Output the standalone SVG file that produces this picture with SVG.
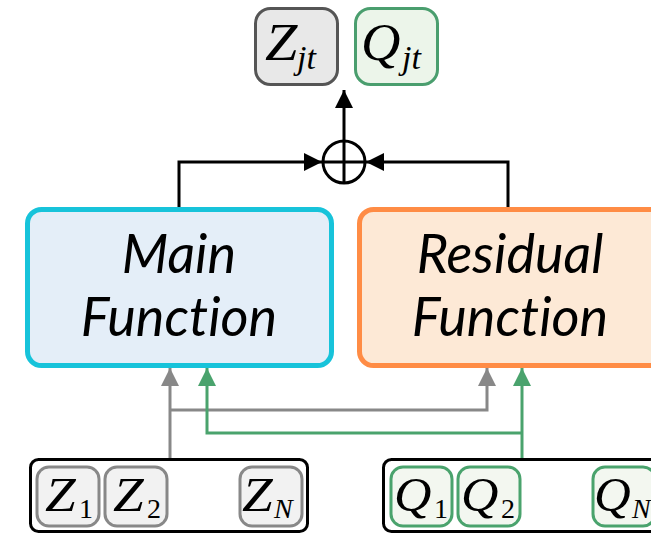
<svg xmlns="http://www.w3.org/2000/svg" width="651" height="533" viewBox="0 0 651 533">
<defs>
<style>
.lbl{font-family:"Lato","Liberation Sans",sans-serif;font-style:italic;font-size:54px;fill:#000;text-anchor:middle;font-variant-ligatures:none}
.m{font-family:"Liberation Serif","DejaVu Serif",serif;font-style:italic;fill:#000}
.sub{font-family:"Liberation Serif","DejaVu Serif",serif;fill:#000}
.zs{fill:#f2f2f2;stroke:#888;stroke-width:3}
.qs{fill:#f3f7f0;stroke:#4aa36d;stroke-width:3}
.cont{fill:#fff;stroke:#000;stroke-width:3}
</style>
<marker id="ab" viewBox="0 0 10 10" refX="10" refY="5" markerWidth="18" markerHeight="18" markerUnits="userSpaceOnUse" orient="auto"><path d="M0,0 L10,5 L0,10 z" fill="#000"/></marker>
<marker id="ag" viewBox="0 0 10 10" refX="10" refY="5" markerWidth="18" markerHeight="18" markerUnits="userSpaceOnUse" orient="auto"><path d="M0,0 L10,5 L0,10 z" fill="#888"/></marker>
<marker id="agr" viewBox="0 0 10 10" refX="10" refY="5" markerWidth="18" markerHeight="18" markerUnits="userSpaceOnUse" orient="auto"><path d="M0,0 L10,5 L0,10 z" fill="#4aa36d"/></marker>
</defs>

<g id="connectors" fill="none">
<path d="M179,207 V162 H322" stroke="#000" stroke-width="3" marker-end="url(#ab)"/>
<path d="M508,207 V162 H366" stroke="#000" stroke-width="3" marker-end="url(#ab)"/>
<path d="M344,140 V90" stroke="#000" stroke-width="3" marker-end="url(#ab)"/>
<path d="M170,459 V368" stroke="#888" stroke-width="3" marker-end="url(#ag)"/>
<path d="M170,410 H487 V368" stroke="#888" stroke-width="3" marker-end="url(#ag)"/>
<path d="M522,459 V368" stroke="#4aa36d" stroke-width="3" marker-end="url(#agr)"/>
<path d="M522,433 H207 V368" stroke="#4aa36d" stroke-width="3" marker-end="url(#agr)"/>
</g>

<g id="sum">
<circle cx="344" cy="162" r="21" fill="#fff" stroke="#000" stroke-width="3"/>
<path d="M323,162 H365 M344,141 V183" stroke="#000" stroke-width="3"/>
</g>

<g id="zjt">
<rect x="255.5" y="8.5" width="82" height="76" rx="15" fill="#e8e8e8" stroke="#555" stroke-width="3"/>
<text transform="translate(265,60) scale(1.12,1)" class="m" font-size="52">Z</text>
<text x="297" y="69" class="m" font-size="34">jt</text>
</g>

<g id="qjt">
<rect x="355.5" y="8.5" width="82" height="76" rx="15" fill="#ecf5ea" stroke="#4a9e6e" stroke-width="3"/>
<text transform="translate(361,60) scale(1.05,1)" class="m" font-size="52">Q</text>
<text x="402" y="69" class="m" font-size="34">jt</text>
</g>

<g id="main">
<rect x="27.5" y="209.5" width="304" height="156" rx="14" fill="#e4eef8" stroke="#17c3da" stroke-width="5"/>
<text x="179" y="273" class="lbl">Main</text>
<text x="179" y="336" class="lbl">Function</text>
</g>

<g id="residual">
<rect x="359.5" y="209.5" width="304" height="156" rx="14" fill="#fde9d6" stroke="#ff8c45" stroke-width="5"/>
<text x="510" y="273" class="lbl">Residual</text>
<text x="510" y="336" class="lbl">Function</text>
</g>

<g id="zinputs">
<rect x="30.5" y="459.5" width="277" height="72" rx="8" class="cont"/>
<rect x="37" y="467" width="62" height="59" rx="12" class="zs"/>
<text transform="translate(45,511) scale(1.15,1)" class="m" font-size="48">Z</text>
<text x="79" y="518" class="sub" font-size="28">1</text>
<rect x="105" y="467" width="62" height="59" rx="12" class="zs"/>
<text transform="translate(113,511) scale(1.15,1)" class="m" font-size="48">Z</text>
<text x="147" y="518" class="sub" font-size="28">2</text>
<rect x="240" y="467" width="62" height="59" rx="12" class="zs"/>
<text transform="translate(242,511) scale(1.15,1)" class="m" font-size="48">Z</text>
<text x="274" y="518" class="m" font-size="28">N</text>
</g>

<g id="qinputs">
<rect x="383.5" y="459.5" width="290" height="72" rx="8" class="cont"/>
<rect x="391" y="467" width="61" height="59" rx="12" class="qs"/>
<text transform="translate(394,511) scale(1.08,1)" class="m" font-size="48">Q</text>
<text x="434" y="518" class="sub" font-size="28">1</text>
<rect x="458" y="467" width="62" height="59" rx="12" class="qs"/>
<text transform="translate(461,511) scale(1.08,1)" class="m" font-size="48">Q</text>
<text x="501" y="518" class="sub" font-size="28">2</text>
<rect x="593" y="467" width="62" height="59" rx="12" class="qs"/>
<text transform="translate(594,511) scale(1.06,1)" class="m" font-size="48">Q</text>
<text x="632" y="518" class="m" font-size="28">N</text>
</g>
</svg>
